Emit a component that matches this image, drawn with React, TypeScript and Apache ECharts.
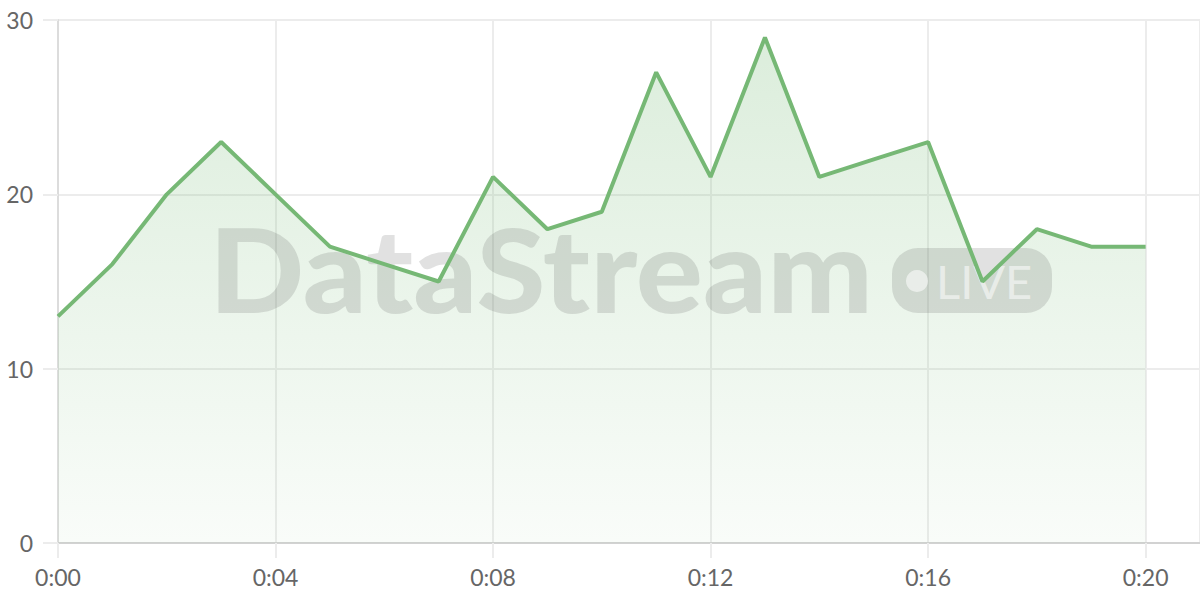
import React, { useEffect, useRef } from "react";
import * as echarts from "echarts";

const minutes = [0, 1, 2, 3, 4, 5, 6, 7, 8, 9, 10, 11, 12, 13, 14, 15, 16, 17, 18, 19, 20];
const values = [13, 16, 20, 23, 20, 17, 16, 15, 21, 18, 19, 27, 21, 29, 21, 22, 23, 15, 18, 17, 17];
const yTicks = [0, 10, 20, 30];
const watermarkText = "DataStream";
const badgeText = "LIVE";

const fmtMinute = (v: number) => `0:${String(v).padStart(2, "0")}`;

export default function App() {
  const ref = useRef<HTMLDivElement>(null);
  useEffect(() => {
    document.body.style.margin = "0";
    if (!ref.current) return;
    const chart = echarts.init(ref.current, null, { renderer: "svg" });
    const data = minutes.map((m, i) => [m, values[i]]);
    const font = "Lato, 'Open Sans', sans-serif";
    const wmFill = "rgba(80,80,80,0.17)";
    chart.setOption({
      animation: false,
      backgroundColor: "#ffffff",
      grid: { left: 58, right: 0, top: 20, bottom: 57, containLabel: false },
      xAxis: {
        type: "value",
        min: 0,
        max: 21,
        interval: 4,
        axisLine: { show: true, lineStyle: { color: "#d2d2d2", width: 2 } },
        axisTick: { show: true, length: 15, lineStyle: { color: "#ececec", width: 2 } },
        splitLine: { show: true, lineStyle: { color: "#ececec", width: 2 } },
        axisLabel: {
          showMaxLabel: false,
          margin: 22,
          fontSize: 23,
          color: "#666",
          fontFamily: font,
          formatter: (v: number) => (v % 4 === 0 ? fmtMinute(v) : ""),
        },
      },
      yAxis: {
        type: "value",
        min: yTicks[0],
        max: yTicks[yTicks.length - 1],
        interval: 10,
        axisLine: { show: true, lineStyle: { color: "#dcdcdc", width: 2 } },
        axisTick: { show: true, length: 15, lineStyle: { color: "#ececec", width: 2 } },
        splitLine: { show: true, lineStyle: { color: "#ececec", width: 2 } },
        axisLabel: { margin: 25, fontSize: 23, color: "#666", fontFamily: font },
      },
      graphic: [
        {
          type: "text",
          z: 3,
          x: 209,
          y: 268,
          scaleX: 1.08,
          style: {
            text: watermarkText,
            fontSize: 116,
            fontWeight: 900,
            fontFamily: font,
            fill: wmFill,
            textVerticalAlign: "middle",
          },
        },
        {
          type: "rect",
          z: 3,
          shape: { x: 892, y: 248, width: 160, height: 65, r: 26 },
          style: { fill: wmFill },
        },
        {
          type: "circle",
          z: 3,
          shape: { cx: 917, cy: 281, r: 11 },
          style: { fill: "rgba(255,255,255,0.55)" },
        },
        {
          type: "text",
          z: 3,
          x: 936,
          y: 281,
          style: {
            text: badgeText,
            fontSize: 47,
            fontWeight: 400,
            fontFamily: font,
            fill: "rgba(255,255,255,0.55)",
            textVerticalAlign: "middle",
          },
        },
      ],
      series: [
        {
          type: "line",
          data,
          z: 1,
          symbol: "none",
          lineStyle: { width: 0 },
          areaStyle: {
            color: new echarts.graphic.LinearGradient(0, 0, 0, 1, [
              { offset: 0, color: "rgba(115,185,115,0.36)" },
              { offset: 1, color: "rgba(115,185,115,0.06)" },
            ]),
            origin: "start",
          },
        },
        {
          type: "line",
          data,
          z: 5,
          symbol: "none",
          lineStyle: { width: 4, color: "#76b875" },
        },
      ],
    });
    return () => chart.dispose();
  }, []);
  return <div ref={ref} style={{ width: 1200, height: 600 }} />;
}
